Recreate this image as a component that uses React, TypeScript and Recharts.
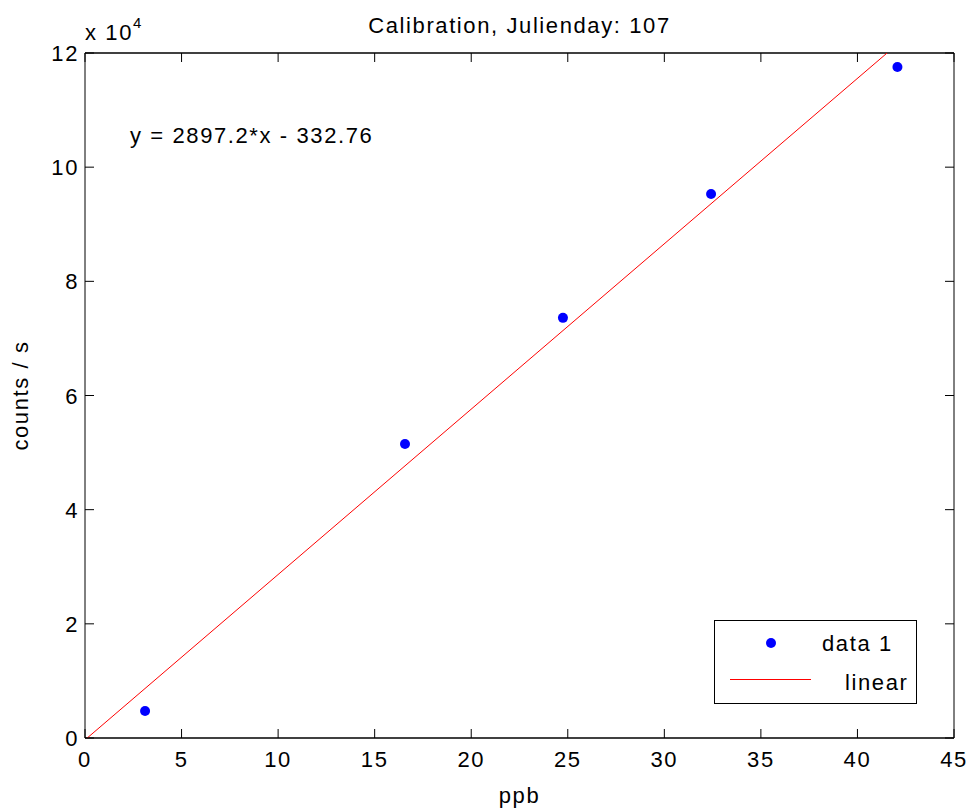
import React from 'react';
import { ComposedChart, XAxis, YAxis, Scatter, Legend, Label, ReferenceDot } from 'recharts';

const ppb = [3.11, 16.57, 24.75, 32.42, 42.07];
const countsPerSec = [4730, 51500, 73600, 95300, 117550];
const fitX = [0, 42.07];
const fitY = [-332.76, 121552.4];
const xTicks = [0, 5, 10, 15, 20, 25, 30, 35, 40, 45];
const yTicks = [0, 20000, 40000, 60000, 80000, 100000, 120000];
const titleText = 'Calibration, Julienday: 107';
const equationText = 'y = 2897.2*x - 332.76';
const xLabelText = 'ppb';
const yLabelText = 'counts / s';
const seriesNames = ['data 1', 'linear'];

const dataPoints = ppb.map((x, i) => ({ x, y: countsPerSec[i] }));
const fitPoints = fitX.map((x, i) => ({ x, y: fitY[i] }));

const FONT = '"Liberation Sans", Arial, Helvetica, sans-serif';
const FS = 22;
const LS = 1.6;
const TICK = 9;

const txt = { fontFamily: FONT, fontSize: FS, letterSpacing: LS, fill: '#000' } as const;

const BottomTick = (p: any) => (
  <g>
    <line x1={p.x} y1={p.y} x2={p.x} y2={p.y - TICK} stroke="#000" strokeWidth={1} />
    <text x={p.x} y={p.y + 29} textAnchor="middle" style={txt}>{p.payload.value}</text>
  </g>
);
const TopTick = (p: any) => (
  <line x1={p.x} y1={p.y} x2={p.x} y2={p.y + TICK} stroke="#000" strokeWidth={1} />
);
const LeftTick = (p: any) => (
  <g>
    <line x1={p.x} y1={p.y} x2={p.x + TICK} y2={p.y} stroke="#000" strokeWidth={1} />
    <text x={p.x - 6} y={p.y + 8} textAnchor="end" style={txt}>{p.payload.value / 10000}</text>
  </g>
);
const RightTick = (p: any) => (
  <line x1={p.x} y1={p.y} x2={p.x - TICK} y2={p.y} stroke="#000" strokeWidth={1} />
);

const XTitle = (p: any) => {
  const vb = p.viewBox;
  return (
    <text x={vb.x + vb.width / 2} y={vb.y + 65} textAnchor="middle" style={txt}>{xLabelText}</text>
  );
};
const YTitle = (p: any) => {
  const vb = p.viewBox;
  const cx = 28;
  const cy = vb.y + vb.height / 2;
  return (
    <text x={cx} y={cy} textAnchor="middle" transform={`rotate(-90, ${cx}, ${cy})`} style={txt}>{yLabelText}</text>
  );
};
const ChartTitle = (p: any) => {
  const vb = p.viewBox;
  return (
    <text x={vb.x + vb.width / 2} y={33} textAnchor="middle" style={txt}>{titleText}</text>
  );
};
const Exponent = (p: any) => {
  const vb = p.viewBox;
  return (
    <text x={vb.x + vb.width} y={40} style={txt}>
      x 10<tspan dy={-12} style={{ fontSize: 15 }}>4</tspan>
    </text>
  );
};

const EquationShape = (p: any) => (
  <text x={p.cx} y={p.cy} style={txt}>{equationText}</text>
);

const LegendBox = () => (
  <div
    style={{
      position: 'relative',
      width: 203,
      height: 84,
      boxSizing: 'border-box',
      border: '1px solid #000',
      background: '#fff',
      fontFamily: FONT,
      fontSize: FS,
      letterSpacing: LS,
      color: '#000',
    }}
  >
    <svg width={203} height={84} style={{ position: 'absolute', left: -1, top: -1 }}>
      <circle cx={57} cy={23} r={5} fill="#0000ff" />
      <line x1={16} y1={59.5} x2={97} y2={59.5} stroke="#ff0000" strokeWidth={1} />
    </svg>
    <span style={{ position: 'absolute', left: 107, top: 23 - 14, lineHeight: '28px' }}>{seriesNames[0]}</span>
    <span style={{ position: 'absolute', left: 130, top: 62 - 14, lineHeight: '28px' }}>{seriesNames[1]}</span>
  </div>
);

export default function App() {
  return (
    <div style={{ position: 'absolute', left: 0, top: 0, width: 973, height: 809, background: '#fff', fontFamily: FONT }}>
      <ComposedChart width={973} height={809} margin={{ top: 0, right: 0, bottom: 0, left: 0 }}>
        <XAxis
          xAxisId="bottom"
          type="number"
          dataKey="x"
          orientation="bottom"
          domain={[0, 45]}
          ticks={xTicks}
          interval={0}
          height={71}
          tickSize={0}
          tickMargin={0}
          tickLine={false}
          axisLine={{ stroke: '#000', strokeWidth: 1.3 }}
          tick={<BottomTick />}
          allowDataOverflow
        >
          <Label content={<XTitle />} />
        </XAxis>
        <XAxis
          xAxisId="top"
          type="number"
          dataKey="x"
          orientation="top"
          domain={[0, 45]}
          ticks={xTicks}
          interval={0}
          height={53}
          tickSize={0}
          tickMargin={0}
          tickLine={false}
          axisLine={{ stroke: '#000', strokeWidth: 1.3 }}
          tick={<TopTick />}
          allowDataOverflow
        >
          <Label content={<ChartTitle />} />
        </XAxis>
        <YAxis
          yAxisId="left"
          type="number"
          dataKey="y"
          orientation="left"
          domain={[0, 120000]}
          ticks={yTicks}
          interval={0}
          width={85}
          tickSize={0}
          tickMargin={0}
          tickLine={false}
          axisLine={{ stroke: '#000', strokeWidth: 1 }}
          tick={<LeftTick />}
          allowDataOverflow
        >
          <Label content={<YTitle />} />
          <Label content={<Exponent />} />
        </YAxis>
        <YAxis
          yAxisId="right"
          type="number"
          dataKey="y"
          orientation="right"
          domain={[0, 120000]}
          ticks={yTicks}
          interval={0}
          width={19}
          tickSize={0}
          tickMargin={0}
          tickLine={false}
          axisLine={{ stroke: '#000', strokeWidth: 1 }}
          tick={<RightTick />}
          allowDataOverflow
        />
        <Scatter
          name={seriesNames[1]}
          data={fitPoints}
          xAxisId="bottom"
          yAxisId="left"
          line={{ stroke: '#ff0000', strokeWidth: 1 }}
          shape={() => <g />}
          isAnimationActive={false}
        />
        <Scatter
          name={seriesNames[0]}
          data={dataPoints}
          xAxisId="bottom"
          yAxisId="left"
          shape={(p: any) => <circle cx={p.cx} cy={p.cy} r={5} fill="#0000ff" />}
          isAnimationActive={false}
        />
        <ReferenceDot
          xAxisId="bottom"
          yAxisId="left"
          x={2.33}
          y={104200}
          r={0}
          shape={<EquationShape />}
        />
        <Legend
          layout="vertical"
          align="center"
          verticalAlign="middle"
          content={<LegendBox />}
          wrapperStyle={{ position: 'absolute', left: 714, top: 620, width: 203, height: 84 }}
        />
      </ComposedChart>
    </div>
  );
}
